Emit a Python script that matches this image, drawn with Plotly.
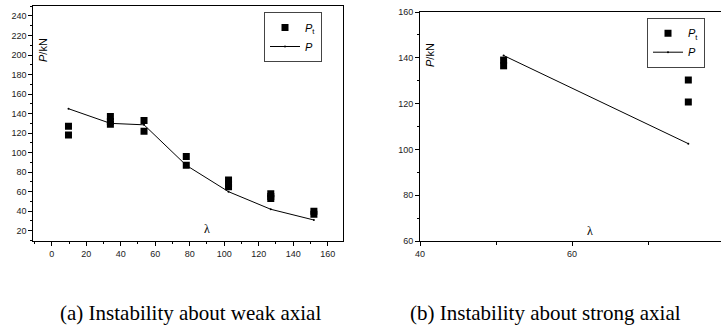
import plotly.graph_objects as go

# ---- data (a) weak axis ----
a_test_x = [9.7, 9.7, 34, 34, 34, 53.5, 53.5, 78, 78, 102.5, 102.5, 102.5, 127, 127, 127, 152, 152]
a_test_y = [127, 118, 137, 132, 129, 133, 122, 96, 87, 72, 68, 65, 58, 55, 53, 40, 37]
a_calc_x = [9.7, 34, 53.5, 78, 102.5, 127, 152]
a_calc_y = [145, 130, 128.5, 87, 60, 42, 31]

# ---- data (b) strong axis ----
b_test_x = [51, 51, 75.3, 75.3]
b_test_y = [139, 136.5, 130.3, 120.7]
b_calc_x = [51, 75.3]
b_calc_y = [141, 102.5]

a_xticks = [0, 20, 40, 60, 80, 100, 120, 140, 160]
a_yticks = [20, 40, 60, 80, 100, 120, 140, 160, 180, 200, 220, 240]
b_xticks = [40, 60]
b_yticks = [60, 80, 100, 120, 140, 160]

captions = ["(a) Instability about weak axial", "(b) Instability about strong axial"]

W, H = 721, 329

fig = go.Figure()
mk = dict(symbol="square", size=7, color="black")
ln = dict(color="black", width=1)

fig.add_trace(go.Scatter(x=a_test_x, y=a_test_y, mode="markers", marker=mk,
                         name="<i>P</i><sub>t</sub>", xaxis="x", yaxis="y", legend="legend"))
fig.add_trace(go.Scatter(x=a_calc_x, y=a_calc_y, mode="lines+markers", line=ln,
                         marker=dict(size=2, color="black"),
                         name="<i>P</i>", xaxis="x", yaxis="y", legend="legend"))
fig.add_trace(go.Scatter(x=b_test_x, y=b_test_y, mode="markers", marker=mk,
                         name="<i>P</i><sub>t</sub>", xaxis="x2", yaxis="y2", legend="legend2"))
fig.add_trace(go.Scatter(x=b_calc_x, y=b_calc_y, mode="lines+markers", line=ln,
                         marker=dict(size=2, color="black"),
                         name="<i>P</i>", xaxis="x2", yaxis="y2", legend="legend2"))

def py(p):
    return 1 - p / H

def px(p):
    return p / W

axcommon = dict(showgrid=False, zeroline=False, showline=True, linecolor="black",
                linewidth=1, mirror=True, ticks="outside", ticklen=4, tickwidth=1,
                tickcolor="black", automargin=False,
                tickfont=dict(family="Arial", size=9, color="#222"))

legcommon = dict(bgcolor="white", bordercolor="#444", borderwidth=1,
                 font=dict(family="Arial", size=11, color="black"),
                 tracegroupgap=0, itemwidth=30, xanchor="right", yanchor="top")

fig.update_layout(
    width=W, height=H, margin=dict(l=0, r=0, t=0, b=0, autoexpand=False),
    paper_bgcolor="white", plot_bgcolor="white",
    xaxis=dict(domain=[px(33.3), px(342.7)], range=[-10.7, 168.7], tickvals=a_xticks,
               minor=dict(dtick=10, ticks="outside", ticklen=2, tickcolor="black"),
               anchor="y", **axcommon),
    yaxis=dict(domain=[py(241), py(6)], range=[9.5, 250.2], tickvals=a_yticks,
               minor=dict(dtick=10, ticks="outside", ticklen=2, tickcolor="black"),
               anchor="x", **axcommon),
    xaxis2=dict(domain=[px(420), 1.0], range=[40, 79.6], tickvals=b_xticks,
                minor=dict(tickvals=[50, 70], ticks="outside", ticklen=3, tickcolor="black"),
                anchor="y2", **axcommon),
    yaxis2=dict(domain=[py(241), py(12)], range=[60, 160], tickvals=b_yticks,
                minor=dict(dtick=10, ticks="outside", ticklen=2, tickcolor="black"),
                anchor="x2", **axcommon),
    legend=dict(x=px(322), y=py(12), **legcommon),
    legend2=dict(x=px(705), y=py(17.7), **legcommon),
    showlegend=True,
)

ann = []
ann.append(dict(x=px(43), y=py(50), xref="paper", yref="paper", text="<i>P</i>/kN",
                textangle=-90, showarrow=False, xanchor="center", yanchor="middle",
                font=dict(family="Arial", size=11, color="black")))
ann.append(dict(x=px(430), y=py(55), xref="paper", yref="paper", text="<i>P</i>/kN",
                textangle=-90, showarrow=False, xanchor="center", yanchor="middle",
                font=dict(family="Arial", size=11, color="black")))
ann.append(dict(x=px(207), y=py(229), xref="paper", yref="paper", text="λ",
                showarrow=False, xanchor="center", yanchor="middle",
                font=dict(family="Liberation Serif", size=12, color="black")))
ann.append(dict(x=px(590), y=py(231), xref="paper", yref="paper", text="λ",
                showarrow=False, xanchor="center", yanchor="middle",
                font=dict(family="Liberation Serif", size=12, color="black")))
ann.append(dict(x=px(190), y=py(313), xref="paper", yref="paper", text=captions[0],
                showarrow=False, xanchor="center", yanchor="middle",
                font=dict(family="Liberation Serif", size=21, color="black")))
ann.append(dict(x=px(545), y=py(313), xref="paper", yref="paper", text=captions[1],
                showarrow=False, xanchor="center", yanchor="middle",
                font=dict(family="Liberation Serif", size=21, color="black")))
fig.update_layout(annotations=ann)

fig.write_html("out.html", config={"displayModeBar": False},
               post_script="document.body.style.margin='0';document.body.style.overflow='hidden';")
